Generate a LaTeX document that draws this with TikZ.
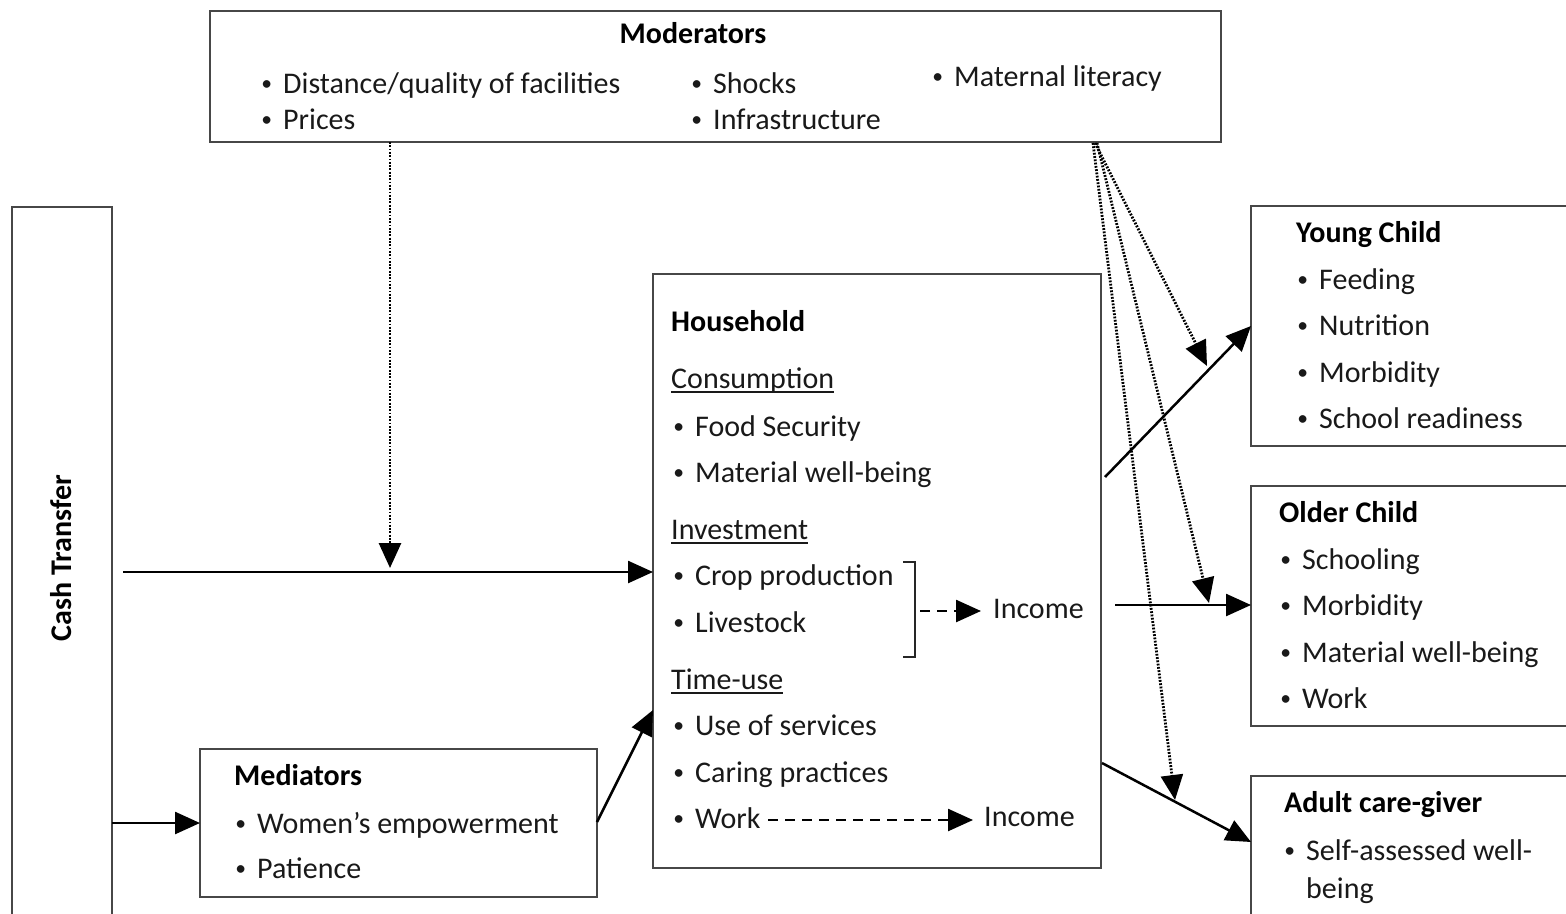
\documentclass[tikz,border=0pt]{standalone}
\usepackage{fontspec}
\setmainfont{Carlito}
\usetikzlibrary{arrows.meta,calc}
\newcommand\bul{\llap{\raisebox{2.5pt}{\scalebox{0.72}{•}}\hspace{11pt}}}
\newcommand\ulx[1]{\sbox0{#1}\rlap{\rule[-4.5pt]{\wd0}{1.6pt}}\usebox0}
\begin{document}
\begin{tikzpicture}[x=1pt,y=-1pt,
  font=\fontsize{30}{36}\selectfont,
  box/.style={draw=black!72, line width=2.2pt, inner sep=0pt, outer sep=0pt, anchor=north west},
  txt/.style={anchor=base west, inner sep=0pt, text=black!90},
  ttl/.style={txt, font=\fontsize{30}{36}\selectfont\bfseries, text=black},
  arr/.style={line width=2.5pt, draw=black, -{Triangle[length=25pt,width=22pt]}},
  dotarr/.style={arr, line width=2.8pt, dash pattern=on 1.8pt off 1.5pt},
  dasharr/.style={arr, dash pattern=on 10pt off 7pt}]
\useasboundingbox (0,0) rectangle (1566,913);
\fill[white] (0,0) rectangle (1566,913);

% boxes
\node[box, minimum width=1011pt, minimum height=131pt] (mod) at (210,11) {};
\node[box, minimum width=100pt, minimum height=730pt] (cash) at (12,207) {};
\node[box, minimum width=448pt, minimum height=594pt] (hh) at (653,274) {};
\node[box, minimum width=397pt, minimum height=148pt] (med) at (200,749) {};
\node[box, minimum width=316pt, minimum height=240pt] (yc) at (1251,206) {};
\node[box, minimum width=316pt, minimum height=240pt] (oc) at (1251,486) {};
\node[box, minimum width=316pt, minimum height=160pt] (ad) at (1251,776) {};

% moderators text
\node[ttl, anchor=base] (modt) at (693,43) {Moderators};
\node[txt] (m1) at (283,93) {\bul Distance/quality of facilities};
\node[txt] (m2) at (283,129) {\bul Prices};
\node[txt] (m3) at (713,93) {\bul Shocks};
\node[txt] (m4) at (713,129) {\bul Infrastructure};
\node[txt] (m5) at (954,86) {\bul Maternal literacy};

% cash transfer
\node[font=\fontsize{30}{36}\selectfont\bfseries, rotate=90, inner sep=0pt] (ctt) at (61,558) {Cash Transfer};

% household
\node[ttl] (hht) at (671,331) {Household};
\node[txt] (h1) at (671,388) {\ulx{Consumption}};
\node[txt] (h2) at (695,436) {\bul Food Security};
\node[txt] (h3) at (695,482) {\bul Material well-being};
\node[txt] (h4) at (671,539) {\ulx{Investment}};
\node[txt] (h5) at (695,585) {\bul Crop production};
\node[txt] (h6) at (695,632) {\bul Livestock};
\node[txt] (h7) at (671,689) {\ulx{Time-use}};
\node[txt] (h8) at (695,735) {\bul Use of services};
\node[txt] (h9) at (695,782) {\bul Caring practices};
\node[txt] (h10) at (695,828) {\bul Work};
\node[txt] (inc1) at (993,618) {Income};
\node[txt] (inc2) at (984,826) {Income};

% mediators
\node[ttl] (medt) at (234,785) {Mediators};
\node[txt] (md1) at (257,833) {\bul Women’s empowerment};
\node[txt] (md2) at (257,878) {\bul Patience};

% young child
\node[ttl] (yct) at (1296,242) {Young Child};
\node[txt] (y1) at (1319,289) {\bul Feeding};
\node[txt] (y2) at (1319,335) {\bul Nutrition};
\node[txt] (y3) at (1319,382) {\bul Morbidity};
\node[txt] (y4) at (1319,428) {\bul School readiness};

% older child
\node[ttl] (oct) at (1279,522) {Older Child};
\node[txt] (o1) at (1302,569) {\bul Schooling};
\node[txt] (o2) at (1302,615) {\bul Morbidity};
\node[txt] (o3) at (1302,662) {\bul Material well-being};
\node[txt] (o4) at (1302,708) {\bul Work};

% adult care-giver
\node[ttl] (adt) at (1284,812) {Adult care-giver};
\node[txt] (a1) at (1306,860) {\bul Self-assessed well-};
\node[txt] (a2) at (1306,898) {being};

% bracket
\draw[line width=2.2pt, black!85] (903,562) -- (915,562) -- (915,657) -- (903,657);

% coordinates
\coordinate (ctA) at (123,572);
\coordinate (modA) at (390,142);
\coordinate (modB) at (390,568);
\coordinate (hhY) at (1105,477);
\coordinate (hhO) at (1115,605);
\coordinate (hhA) at (1102,763);
\coordinate (mdB) at (1095,143);
\coordinate (mdY) at (1207,366);
\coordinate (mdO) at (1209,603);
\coordinate (mdA) at (1175,800);
\coordinate (br) at (920,611);
\coordinate (wk) at (768,820);

% connectors
\draw[arr] (ctA) -- (ctA -| hh.west);
\draw[dotarr] (modA) -- (modB);
\draw[arr] (cash.east |- 0,823) -- (med.west |- 0,823);
\draw[arr] (med.east |- 0,822) -- (hh.west |- 0,710);
\draw[arr] (hhY) -- (yc.west |- 0,326);
\draw[arr] (hhO) -- (oc.west |- hhO);
\draw[arr] (hhA) -- (ad.west |- 0,842);
\draw[dotarr] (mdB) -- (mdY);
\draw[dotarr] ($(mdB)+(2,0)$) -- (mdO);
\draw[dotarr] ($(mdB)+(-2,0)$) -- (mdA);
\draw[dasharr] (br) -- ($(inc1.west |- br)+(-12,0)$);
\draw[dasharr] (wk) -- ($(inc2.west |- wk)+(-11,0)$);
\end{tikzpicture}
\end{document}
